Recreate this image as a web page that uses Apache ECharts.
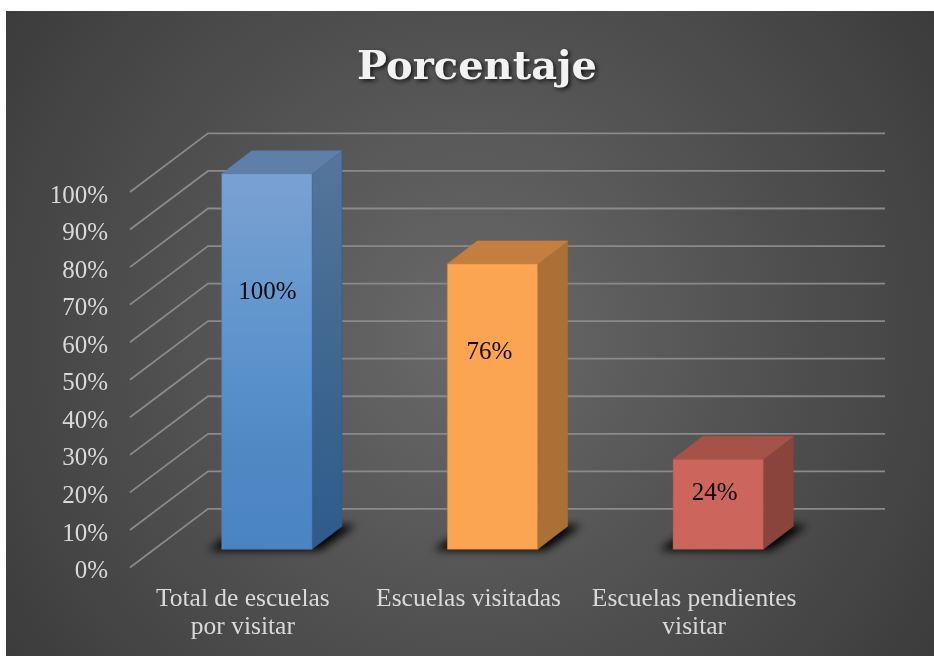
<!DOCTYPE html>
<html><head><meta charset="utf-8">
<style>html,body{margin:0;padding:0;background:#fff}#c{width:934px;height:656px}</style>
<script src="https://cdn.jsdelivr.net/npm/echarts@6/dist/echarts.min.js"></script>
</head><body><div id="c"></div>
<script>
const categories = ['Total de escuelas\npor visitar', 'Escuelas visitadas', 'Escuelas pendientes\nvisitar'];
const values = [100, 76, 24];
const gridValues = [0, 10, 20, 30, 40, 50, 60, 70, 80, 90, 100];
const titleText = 'Porcentaje';

const serif = '"Liberation Serif", serif';
const DEPTH_X = 78, DEPTH_Y = 58.6;      // floor depth
const BAR_X = 24, BAR_Y = 18.2;          // bar front plane offset from axis plane
const BOX_X = 30, BOX_Y = 23;            // bar depth
const SHADOW_SHIFT = 3000;               // shadow caster sits off-canvas so only its blur shows
const G = echarts.graphic;
const lg = (stops) => new G.LinearGradient(0, 0, 0, 1,
  stops.map((c, i) => ({offset: i / (stops.length - 1), color: c})));
const palette = [
  {front: ['#7ba1d1', '#6a9acf', '#5a92cc', '#5088c4', '#4a85c1'], side: ['#56759c', '#3f6890', '#2e5b8c'], top: '#5f7fa8', edge: '#4f7fb0', labelAt: 0.684, labelDx: 0.5},
  {front: ['#fba553', '#fba553'], side: ['#aa7035', '#aa7035'], top: '#c47f40', edge: '#c88440', labelAt: 0.689, labelDx: -3},
  {front: ['#cc655b', '#cc655b'], side: ['#8b443c', '#8b443c'], top: '#a55248', edge: '#a8564c', labelAt: 0.625, labelDx: -3.5}
];

const chart = echarts.init(document.getElementById('c'), null, {renderer: 'canvas'});
chart.setOption({
  animation: false,
  backgroundColor: '#ffffff',
  title: {
    text: titleText, left: 472, top: 44, textAlign: 'center',
    textStyle: {fontFamily: '"DejaVu Serif", serif', fontWeight: 'bold', fontSize: 40, color: '#f2f2f2',
      textShadowColor: 'rgba(0,0,0,0.75)', textShadowBlur: 4, textShadowOffsetX: 2, textShadowOffsetY: 2}
  },
  graphic: [{
    type: 'rect', z: -100, silent: true,
    shape: {x: 6, y: 11, width: 928, height: 645},
    style: {fill: new G.RadialGradient(0.5, 0.5, 0.9, [
      {offset: 0, color: '#6a6a6a'}, {offset: 0.53, color: '#505050'}, {offset: 0.8, color: '#444444'}, {offset: 1, color: '#3a3a3a'}])}
  }],
  grid: {left: 130, top: 192, width: 677, height: 375.5, containLabel: false},
  xAxis: {
    type: 'category', data: categories,
    axisLine: {show: false}, axisTick: {show: false}, splitLine: {show: false},
    axisLabel: {color: '#d9d9d9', fontFamily: serif, fontSize: 25.5, lineHeight: 28, margin: 18, interval: 0}
  },
  yAxis: {
    type: 'value', min: 0, max: 100, interval: 10,
    axisLine: {show: false}, axisTick: {show: false}, splitLine: {show: false},
    axisLabel: {color: '#d9d9d9', fontFamily: serif, fontSize: 25, margin: 22, verticalAlign: 'top', lineHeight: 8, formatter: '{value}%'}
  },
  series: [
    {
      type: 'custom', z: 1, silent: true, clip: false,
      encode: {x: 0, y: 1},
      data: gridValues.map(v => [0, v]),
      renderItem(params, api) {
        const cs = params.coordSys;
        const y = api.coord([0, api.value(1)])[1];
        return {
          type: 'polyline',
          shape: {points: [[cs.x, y], [cs.x + DEPTH_X, y - DEPTH_Y], [cs.x + DEPTH_X + cs.width, y - DEPTH_Y]]},
          style: {fill: null, stroke: '#8a8a8a', lineWidth: 1.8}
        };
      }
    },
    {
      type: 'custom', z: 3, silent: true, clip: false,
      encode: {x: 0, y: 1},
      data: values.map((v, i) => [i, v]),
      renderItem(params, api) {
        const i = api.value(0), v = api.value(1);
        const bw = api.size([1, 0])[0] * 0.4;
        const c = api.coord([i, v]), b = api.coord([i, 0]);
        const x0 = c[0] - bw / 2 + BAR_X, x1 = x0 + bw;
        const yT = c[1] - BAR_Y, yB = b[1] - BAR_Y;
        const p = palette[i];
        const h = yB - yT;
        const S = SHADOW_SHIFT;
        return {
          type: 'group',
          children: [
            {type: 'polygon', z2: 1,
             shape: {points: [[x0 - 14 - S, yB + 1], [x1 + 8 - S, yB + 1], [x1 + BOX_X + 14 - S, yB - BOX_Y - 1], [x0 + 22 - S, yB - BOX_Y - 1]]},
             style: {fill: '#000', shadowBlur: 8, shadowColor: 'rgba(0,0,0,1)', shadowOffsetX: S}},
            {type: 'polygon', z2: 2,
             shape: {points: [[x1, yT], [x1 + BOX_X, yT - BOX_Y], [x1 + BOX_X, yB - BOX_Y], [x1, yB]]},
             style: {fill: lg(p.side), stroke: p.side[p.side.length - 1], lineWidth: 0.5}},
            {type: 'polygon', z2: 3,
             shape: {points: [[x0, yT], [x0 + BOX_X, yT - BOX_Y], [x1 + BOX_X, yT - BOX_Y], [x1, yT]]},
             style: {fill: p.top, stroke: p.edge, lineWidth: 0.5}},
            {type: 'rect', z2: 4,
             shape: {x: x0, y: yT, width: bw, height: h},
             style: {fill: lg(p.front), stroke: p.edge, lineWidth: 0.5}},
            {type: 'text', z2: 5,
             style: {text: v + '%', x: (x0 + x1) / 2 + p.labelDx, y: yB - h * p.labelAt, align: 'center', verticalAlign: 'middle',
               fill: '#0a0a0a', font: '25px ' + serif}}
          ]
        };
      }
    }
  ]
});
</script></body></html>
